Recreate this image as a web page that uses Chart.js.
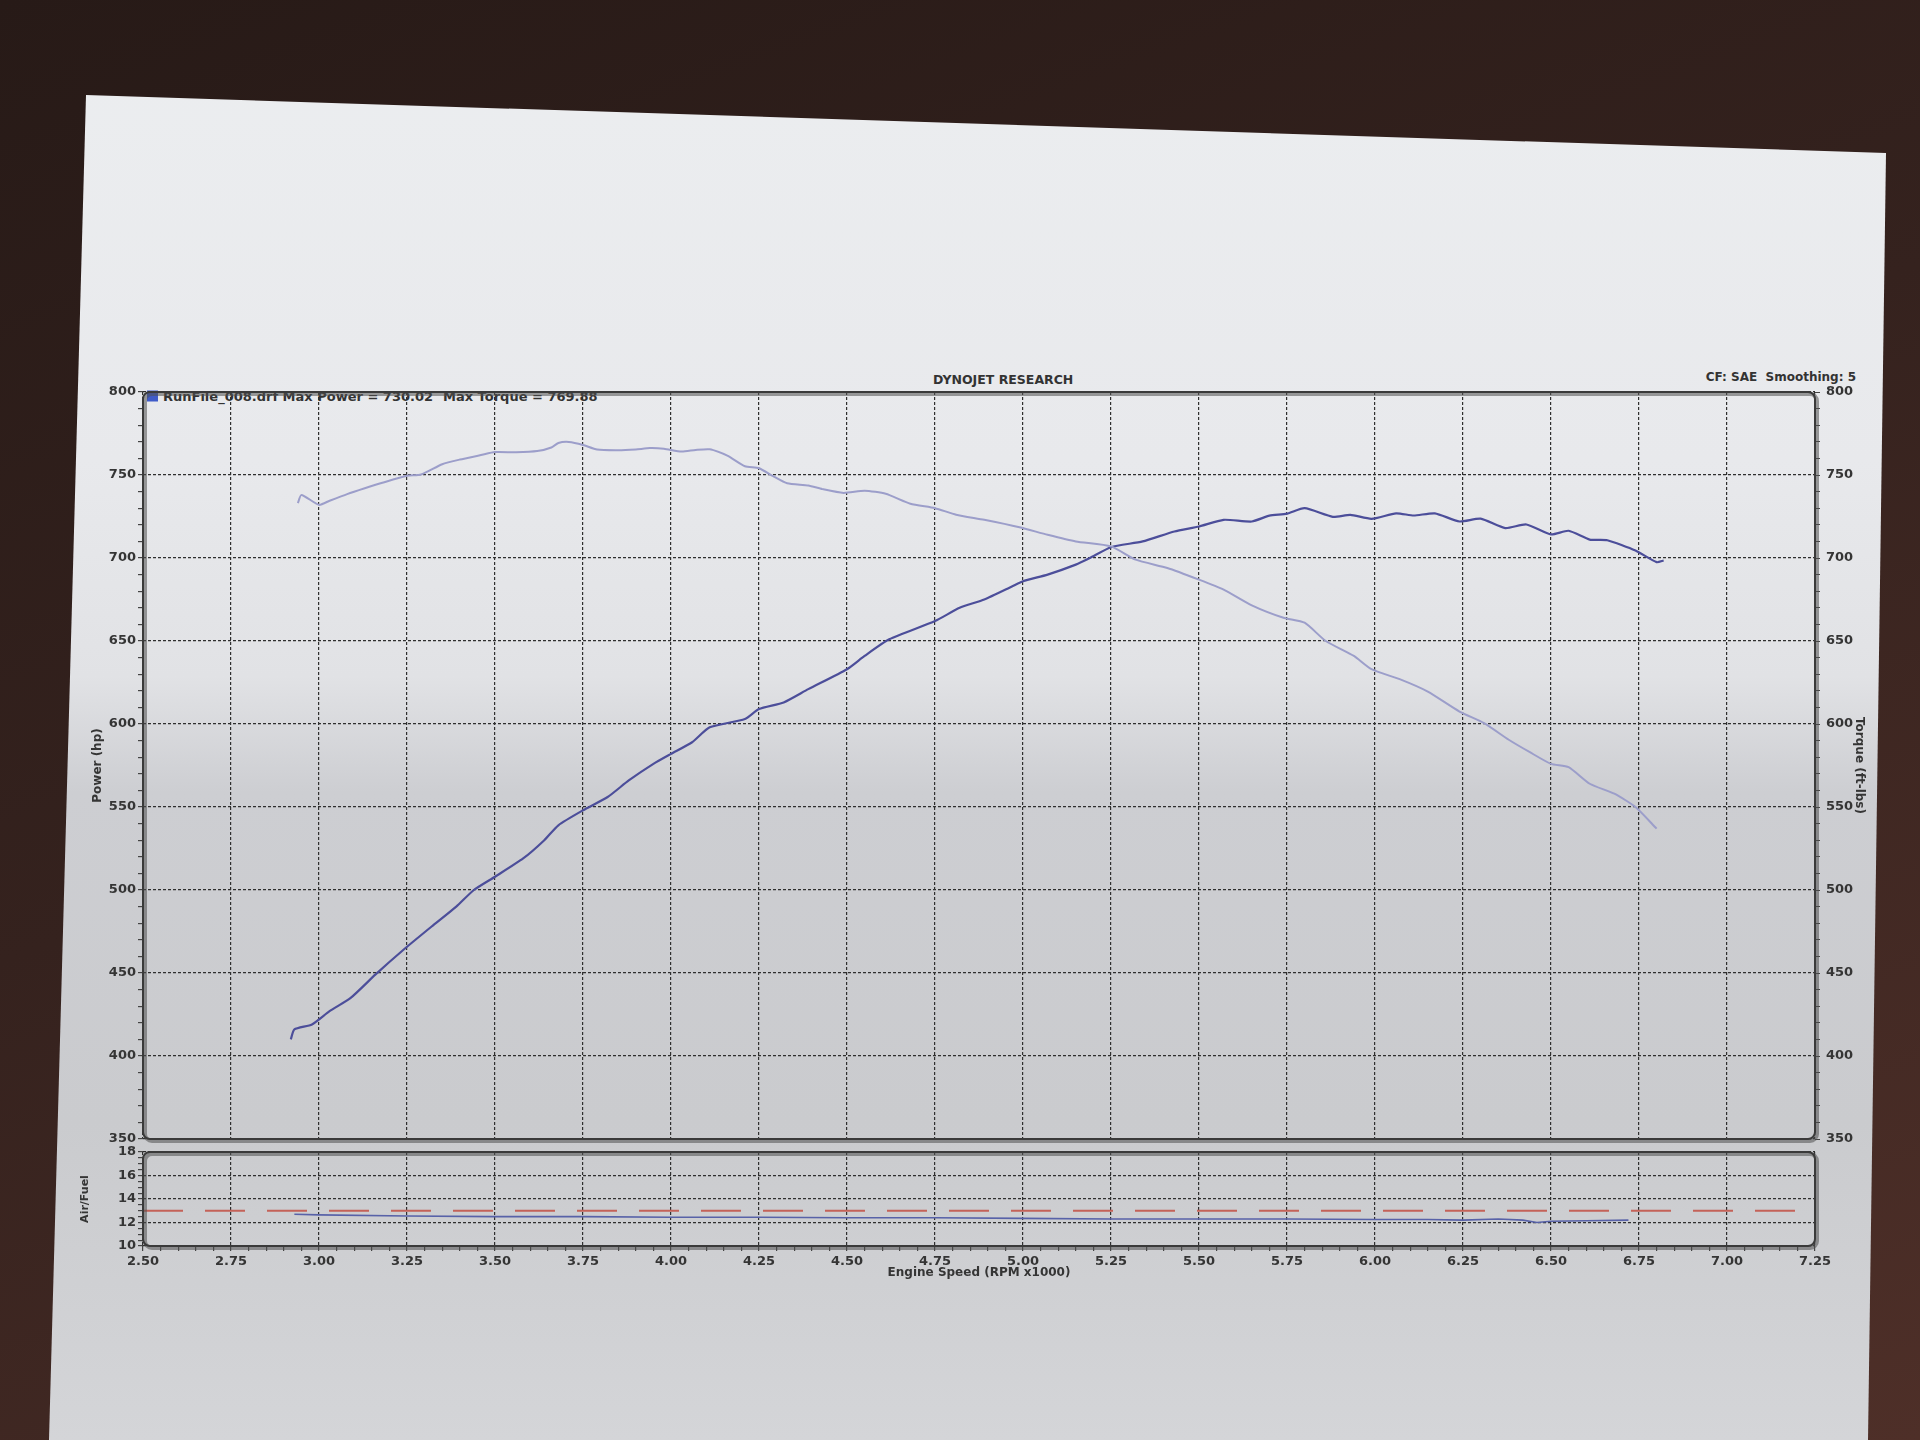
<!DOCTYPE html>
<html>
<head>
<meta charset="utf-8">
<title>Dynojet Research - RunFile_008</title>
<script src="https://cdn.jsdelivr.net/npm/chart.js@4.4.1/dist/chart.umd.min.js"></script>
<style>
  html, body { margin: 0; padding: 0; }
  body {
    width: 1920px; height: 1440px; overflow: hidden; position: relative;
    background: linear-gradient(160deg, #271a17 0%, #35221e 45%, #4e2f28 100%);
    font-family: 'DejaVu Sans', sans-serif;
  }
  #paper {
    position: absolute; left: 0; top: 0; width: 1920px; height: 1440px;
    clip-path: polygon(86px 95px, 1886px 153px, 1868px 1440px, 49px 1440px);
    background: linear-gradient(180deg, #eceef0 0%, #e8e9ec 32%, #e1e2e5 47%, #cdced2 55%, #cacbce 78%, #d4d5d8 100%);
  }
  canvas { position: absolute; }
  .lbl {
    position: absolute; font-weight: bold; color: #333; white-space: nowrap;
    line-height: 1; transform: translateY(-50%);
  }
</style>
</head>
<body>
<div id="paper"></div>

<div class="lbl" style="left:147px; top:396px; width:11px; height:11px; background:#3f5bc9;"></div>
<div class="lbl" style="left:163px; top:396px; font-size:13px;">RunFile_008.drf Max Power = 730.02</div>
<div class="lbl" style="left:443px; top:396px; font-size:13px;">Max Torque = 769.88</div>
<div class="lbl" style="left:933px; top:380px; font-size:12.5px;">DYNOJET RESEARCH</div>
<div class="lbl" style="right:64px; top:377px; font-size:12px;">CF: SAE&nbsp; Smoothing: 5</div>

<canvas id="mainChart" width="1920" height="830" style="left:0; top:330px;"></canvas>
<canvas id="afrChart" width="1920" height="160" style="left:0; top:1140px;"></canvas>

<script>
// engine speed in rpm x1000
const rpmMin = 2.5;
const rpmMax = 7.25;

// Power (hp), dark line
const powerRpm = [2.92, 2.93, 2.98, 3.03, 3.09, 3.16, 3.24, 3.32, 3.39, 3.44, 3.50, 3.58, 3.64, 3.68,
  3.75, 3.82, 3.88, 3.95, 4.00, 4.06, 4.11, 4.21, 4.25, 4.32, 4.39, 4.50, 4.55, 4.62, 4.75, 4.82,
  4.89, 4.97, 5.00, 5.07, 5.15, 5.19, 5.25, 5.34, 5.43, 5.50, 5.57, 5.65, 5.70, 5.75, 5.80, 5.88,
  5.93, 5.99, 6.06, 6.11, 6.17, 6.24, 6.30, 6.37, 6.43, 6.50, 6.55, 6.61, 6.66, 6.74, 6.80, 6.82];
const powerHp = [410, 416, 419, 427, 435, 449, 464, 478, 490, 500, 508, 519, 530, 539,
  548, 556, 566, 576, 582, 589, 598, 603, 609, 613, 621, 633, 641, 651, 662, 670,
  675, 683, 686, 690, 696, 700, 706.5, 710, 716, 719, 723, 722, 725.5, 726.7, 730.0, 724.8,
  726, 723.6, 726.9, 725.6, 726.9, 722, 723.7, 718, 720.2, 714.2, 716.4, 711.1, 710.7, 704.5, 697.5, 698.5];

// Torque (ft-lbs), light line
const torqueRpm = [2.94, 2.95, 3.00, 3.03, 3.08, 3.13, 3.18, 3.25, 3.29, 3.35, 3.40, 3.46, 3.50, 3.56,
  3.62, 3.66, 3.68, 3.71, 3.75, 3.79, 3.85, 3.90, 3.94, 3.98, 4.03, 4.07, 4.11, 4.16, 4.21, 4.25,
  4.29, 4.33, 4.39, 4.43, 4.49, 4.55, 4.61, 4.68, 4.75, 4.81, 4.89, 4.99, 5.07, 5.15, 5.25, 5.32,
  5.41, 5.50, 5.57, 5.65, 5.74, 5.80, 5.86, 5.94, 5.99, 6.07, 6.15, 6.24, 6.31, 6.38, 6.44, 6.50,
  6.55, 6.61, 6.68, 6.74, 6.80];
const torqueFtLb = [733, 738, 732, 734.5, 738.5, 742, 745.3, 749.5, 750.3, 756.5, 759.3, 762, 763.8, 763.7,
  764.4, 766.6, 769.3, 769.9, 768.1, 765.3, 764.9, 765.4, 766.2, 765.8, 764.1, 765.1, 765.5, 761.7, 755.3, 754.1,
  749.3, 745, 743.7, 741.5, 739.2, 740.5, 738.7, 732.7, 730, 726.1, 723, 718.5, 714, 710, 707, 699,
  694, 687, 681, 671.5, 664, 661, 650, 641, 633, 627, 619.5, 607.5, 600.5, 590.5, 583, 576,
  574, 564, 558, 550, 537];

// Air/Fuel ratio, lower panel
const afrRpm = [2.93, 3.00, 3.25, 3.50, 3.75, 4.00, 4.25, 4.50, 4.75, 5.00, 5.25, 5.50, 5.75, 6.00,
  6.15, 6.25, 6.35, 6.42, 6.46, 6.50, 6.60, 6.72];
const afrValues = [12.7, 12.65, 12.55, 12.5, 12.5, 12.45, 12.45, 12.4, 12.4, 12.35, 12.3, 12.3, 12.3, 12.25,
  12.25, 12.2, 12.3, 12.2, 12.0, 12.1, 12.15, 12.2];
const afrTargetRpm = [2.5, 7.25];
const afrTarget = [13, 13];

const toPoints = (xs, ys) => xs.map((x, i) => ({ x: x, y: ys[i] }));

const gridLine = '#2f2f2f';
const noLine = 'rgba(0,0,0,0)';
const tickFont = { family: 'DejaVu Sans', size: 13, weight: 'bold' };
const titleFont = { family: 'DejaVu Sans', size: 12, weight: 'bold' };
const textColor = '#353535';

function isMultiple(v, step) {
  return Math.abs(v / step - Math.round(v / step)) < 1e-6;
}

// rounded frame with a soft printed shadow around the plot area
const framePlugin = {
  id: 'frame',
  afterDraw(chart) {
    const { ctx, chartArea: a } = chart;
    ctx.save();
    ctx.strokeStyle = 'rgba(80,80,80,0.55)';
    ctx.lineWidth = 4;
    ctx.beginPath();
    ctx.roundRect(a.left + 2, a.top + 2, a.width, a.height, 7);
    ctx.stroke();
    ctx.strokeStyle = '#3a3a3a';
    ctx.lineWidth = 2;
    ctx.beginPath();
    ctx.roundRect(a.left, a.top, a.width, a.height, 7);
    ctx.stroke();
    ctx.restore();
  }
};

new Chart(document.getElementById('mainChart'), {
  type: 'line',
  data: {
    datasets: [{
      label: 'Torque',
      data: toPoints(torqueRpm, torqueFtLb),
      yAxisID: 'yTorque',
      borderColor: 'rgb(156,158,202)',
      borderWidth: 2,
      pointRadius: 0,
      tension: 0.2
    }, {
      label: 'Power',
      data: toPoints(powerRpm, powerHp),
      yAxisID: 'yPower',
      borderColor: 'rgb(76,78,154)',
      borderWidth: 2.2,
      pointRadius: 0,
      tension: 0.2
    }]
  },
  options: {
    responsive: false,
    animation: false,
    layout: { padding: { top: 62, bottom: 21, left: 87, right: 50 } },
    plugins: { legend: { display: false }, tooltip: { enabled: false } },
    scales: {
      x: {
        type: 'linear',
        min: rpmMin,
        max: rpmMax,
        ticks: { display: false, stepSize: 0.25 },
        grid: { color: gridLine, lineWidth: 1.2, drawTicks: false },
        border: { display: false, dash: [3, 2] },
        afterFit(s) { s.height = 0; }
      },
      yPower: {
        position: 'left',
        min: 350,
        max: 800,
        ticks: {
          stepSize: 10, autoSkip: false, padding: 2, font: tickFont, color: textColor,
          callback: v => (v % 50 === 0 ? v : '')
        },
        grid: {
          color: c => (c.tick && c.tick.value % 50 === 0 ? gridLine : noLine),
          lineWidth: 1.2, tickColor: '#444', tickLength: 5
        },
        border: { display: false, dash: [3, 2] },
        title: { display: true, text: 'Power (hp)', font: titleFont, color: textColor, padding: { top: 4, bottom: 4 } },
        afterFit(s) { s.width = 56; }
      },
      yTorque: {
        position: 'right',
        min: 350,
        max: 800,
        ticks: {
          stepSize: 10, autoSkip: false, padding: 6, font: tickFont, color: textColor,
          callback: v => (v % 50 === 0 ? v : '')
        },
        grid: { drawOnChartArea: false, tickColor: '#444', tickLength: 5 },
        border: { display: false },
        title: { display: true, text: 'Torque (ft-lbs)', font: titleFont, color: textColor, padding: { top: 4, bottom: 4 } },
        afterFit(s) { s.width = 55; }
      }
    }
  },
  plugins: [framePlugin]
});

new Chart(document.getElementById('afrChart'), {
  type: 'line',
  data: {
    datasets: [{
      label: 'AFR target',
      data: toPoints(afrTargetRpm, afrTarget),
      borderColor: 'rgb(196,98,88)',
      borderWidth: 2,
      borderDash: [40, 22],
      pointRadius: 0
    }, {
      label: 'Air/Fuel',
      data: toPoints(afrRpm, afrValues),
      borderColor: 'rgb(88,98,168)',
      borderWidth: 1.6,
      pointRadius: 0,
      tension: 0
    }]
  },
  options: {
    responsive: false,
    animation: false,
    layout: { padding: { top: 12, bottom: 20, left: 75, right: 105 } },
    plugins: { legend: { display: false }, tooltip: { enabled: false } },
    scales: {
      x: {
        type: 'linear',
        min: rpmMin,
        max: rpmMax,
        ticks: {
          stepSize: 0.05, autoSkip: false, maxRotation: 0, minRotation: 0, padding: 3,
          font: tickFont, color: textColor,
          callback: v => (isMultiple(v, 0.25) ? Number(v).toFixed(2) : '')
        },
        grid: {
          color: c => (c.tick && isMultiple(c.tick.value, 0.25) ? gridLine : noLine),
          lineWidth: 1.2, tickColor: '#444', tickLength: 5
        },
        border: { display: false, dash: [3, 2] },
        title: { display: true, text: 'Engine Speed (RPM x1000)', font: titleFont, color: textColor, padding: { top: 0, bottom: 0 } },
        afterFit(s) { s.height = 34; }
      },
      y: {
        min: 10,
        max: 18,
        ticks: {
          stepSize: 0.5, autoSkip: false, padding: 2, font: tickFont, color: textColor,
          callback: v => (isMultiple(v, 2) ? v : '')
        },
        grid: {
          color: c => (c.tick && isMultiple(c.tick.value, 2) ? gridLine : noLine),
          lineWidth: 1.2, tickColor: '#444', tickLength: 5
        },
        border: { display: false, dash: [3, 2] },
        title: { display: true, text: 'Air/Fuel', font: { family: 'DejaVu Sans', size: 11, weight: 'bold' }, color: textColor, padding: { top: 4, bottom: 4 } },
        afterFit(s) { s.width = 68; }
      }
    }
  },
  plugins: [framePlugin]
});
</script>
</body>
</html>
